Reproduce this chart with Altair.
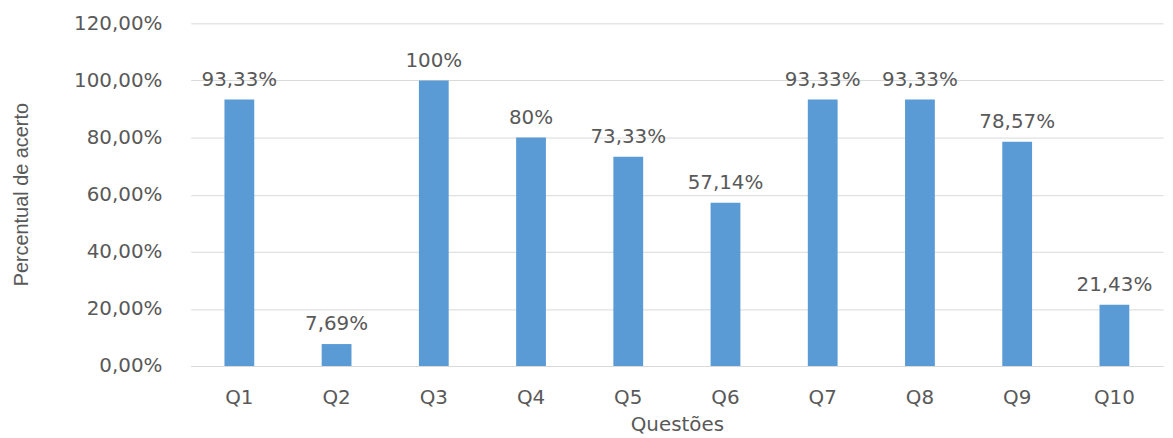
import altair as alt
import pandas as pd

questoes = ["Q1", "Q2", "Q3", "Q4", "Q5", "Q6", "Q7", "Q8", "Q9", "Q10"]
percentual = [0.9333, 0.0769, 1.0, 0.80, 0.7333, 0.5714, 0.9333, 0.9333, 0.7857, 0.2143]
rotulos = ["93,33%", "7,69%", "100%", "80%", "73,33%", "57,14%", "93,33%", "93,33%", "78,57%", "21,43%"]
y_ticks = [0, 0.2, 0.4, 0.6, 0.8, 1.0, 1.2]

df = pd.DataFrame({"q": questoes, "v": percentual, "lab": rotulos})

TXT = "#595959"
FONT = "DejaVu Sans"
FS = 20

x = alt.X(
    "q:N", sort=questoes,
    scale=alt.Scale(paddingInner=0.69, paddingOuter=0.345),
    axis=alt.Axis(
        title="Questões", labelAngle=0, ticks=False, domain=True,
        domainColor="#D9D9D9", labelFont=FONT, labelFontSize=FS, labelColor=TXT,
        labelPadding=22, titleFont=FONT, titleFontSize=FS, titleColor=TXT,
        titleFontWeight="normal", titleY=59, titleBaseline="middle",
    ),
)
y = alt.Y(
    "v:Q",
    scale=alt.Scale(domain=[0, 1.2], nice=False),
    axis=alt.Axis(
        title="Percentual de acerto", values=y_ticks, ticks=False, domain=False,
        grid=True, gridColor="#D9D9D9", gridWidth=1,
        labelExpr="replace(format(datum.value, '.2%'), '.', ',')",
        labelFont=FONT, labelFontSize=FS, labelColor=TXT, labelPadding=29,
        titleFont="Liberation Sans", titleFontSize=20, titleColor=TXT,
        titleFontWeight="normal", titleX=-170, titleY=172, titleBaseline="middle",
    ),
)

bars = alt.Chart(df).mark_bar(color="#5B9BD5", size=30).encode(x=x, y=y)
labels = alt.Chart(df).mark_text(
    baseline="bottom", dy=-10, font=FONT, fontSize=FS, color=TXT
).encode(x=alt.X("q:N", sort=questoes), y="v:Q", text="lab:N")

chart = (bars + labels).properties(
    width=979, height=345,
    background="white",
    autosize=alt.AutoSizeParams(type="none"),
    padding={"left": 184, "top": 14, "right": 2, "bottom": 70},
).configure_view(stroke=None, strokeWidth=0)

chart.save("out.html", embed_options={"renderer": "svg", "actions": False})
